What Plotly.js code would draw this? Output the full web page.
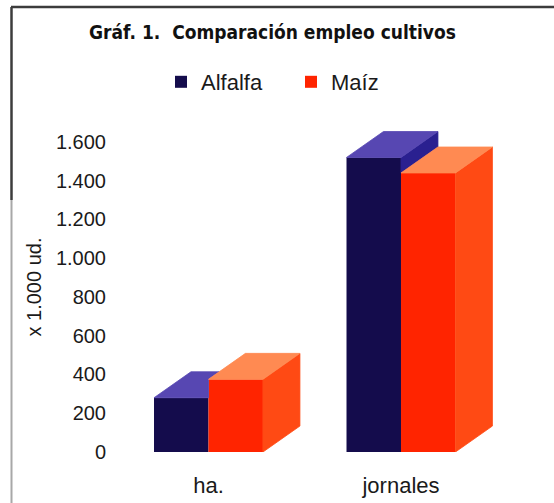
<!DOCTYPE html>
<html>
<head>
<meta charset="utf-8">
<script src="https://cdn.plot.ly/plotly-3.0.1.min.js"></script>
<style>html,body{margin:0;padding:0;background:#fff;}#chart{width:554px;height:503px;}</style>
</head>
<body>
<div id="chart"></div>
<script>
// ---- data ----
const categories = ['ha.', 'jornales'];
const alfalfa = [280, 1520];
const maiz = [375, 1440];
const seriesNames = ['Alfalfa', 'Maíz'];
const yTickVals = [0, 200, 400, 600, 800, 1000, 1200, 1400, 1600];
const yTickText = ['0', '200', '400', '600', '800', '1.000', '1.200', '1.400', '1.600'];

// ---- styles / geometry ----
const W = 554, H = 503;
const M = {l: 120, r: 20, t: 122, b: 51};
const BW = 0.283;   // bar width in x units
const DX = 0.192;   // depth offset in x units
const DY = 134;     // depth offset in y units
const XR = [-0.4597, 1.691];
const YR = [0, 1703];
const colors = [
  {front: '#140c4c', top: '#5747b2', side: '#2a2090'},
  {front: '#ff2400', top: '#ff8a52', side: '#ff4a14'}
];
const FONT = '"Liberation Sans", Arial, sans-serif';
const NARROW = '"DejaVu Sans Condensed", "Liberation Sans Narrow", "Liberation Sans", Arial, sans-serif';

const allSeries = [alfalfa, maiz];
const idx = categories.map((c, i) => i);
const traces = [];

// front faces as bars
allSeries.forEach((vals, k) => {
  traces.push({
    type: 'bar', name: seriesNames[k], x: idx, y: vals,
    width: BW, offset: (k - 1) * BW,
    marker: {color: colors[k].front, line: {width: 0}},
    hoverinfo: 'skip'
  });
});

function poly(xs, ys, col) {
  traces.push({
    type: 'scatter', mode: 'lines', x: xs.concat([xs[0]]), y: ys.concat([ys[0]]),
    fill: 'toself', fillcolor: col, line: {color: col, width: 0.8},
    showlegend: false, hoverinfo: 'skip'
  });
}
const clamp = (v, a, b) => Math.max(a, Math.min(b, v));

// side and top faces (painter's order: left series first)
allSeries.forEach((vals, k) => {
  const next = allSeries[k + 1];
  idx.forEach(i => {
    const v = vals[i];
    const xl = i + (k - 1) * BW, xr = xl + BW;
    const h2 = next ? next[i] : -Infinity;
    // side face (clipped by neighbour on the right)
    const b = clamp(h2, 0, v);
    if (b < v) poly([xr, xr + DX, xr + DX, xr], [b, b + DY, v + DY, v], colors[k].side);
    // top face (clipped by neighbour on the right)
    const c = clamp(h2, v, v + DY);
    poly([xl, xr, xr, xr + (v + DY - c) * DX / DY, xl + DX],
         [v, v, c, v + DY, v + DY], colors[k].top);
  });
});

const pw = W - M.l - M.r, ph = H - M.t - M.b;
const px = x => (x - M.l) / pw;
const py = y => (H - M.b - y) / ph;

const layout = {
  width: W, height: H,
  margin: M,
  paper_bgcolor: '#fff', plot_bgcolor: '#fff',
  barmode: 'overlay',
  showlegend: true,
  title: {
    text: 'Gráf. 1.&nbsp; Comparación empleo cultivos',
    font: {family: NARROW, size: 19, color: '#111', weight: 'bold'},
    xref: 'container', yref: 'container',
    x: 272.5 / W, xanchor: 'center', y: 1 - 32 / H, yanchor: 'middle'
  },
  legend: {
    orientation: 'h', xref: 'container', yref: 'container',
    x: 161 / W, xanchor: 'left', y: 1 - 82 / H, yanchor: 'middle',
    entrywidth: 85,
    font: {family: FONT, size: 22, color: '#1a1a1a'},
    bgcolor: 'rgba(0,0,0,0)', borderwidth: 0
  },
  xaxis: {
    range: XR, tickmode: 'array', tickvals: idx, ticktext: categories,
    showgrid: false, zeroline: false, showline: false, ticks: '',
    ticklabelstandoff: 18,
    tickfont: {family: FONT, size: 22, color: '#1a1a1a'}
  },
  yaxis: {
    range: YR, tickmode: 'array', tickvals: yTickVals, ticktext: yTickText,
    showgrid: false, zeroline: false, showline: false, ticks: '',
    ticklabelstandoff: 13,
    tickfont: {family: FONT, size: 20, color: '#1a1a1a'},
    title: {text: 'x 1.000 ud.', font: {family: FONT, size: 20, color: '#1a1a1a'}, standoff: 8}
  },
  shapes: [
    {type: 'line', xref: 'paper', yref: 'paper', x0: px(11), x1: px(556), y0: py(7), y1: py(7),
     line: {color: '#3c3c3c', width: 2.5}},
    {type: 'line', xref: 'paper', yref: 'paper', x0: px(11.5), x1: px(11.5), y0: py(7), y1: py(200),
     line: {color: '#3c3c3c', width: 2.5}},
    {type: 'line', xref: 'paper', yref: 'paper', x0: px(11.5), x1: px(11.5), y0: py(200), y1: py(505),
     line: {color: '#a8a8a8', width: 2}}
  ]
};

Plotly.newPlot('chart', traces, layout, {staticPlot: true, displayModeBar: false});
</script>
</body>
</html>
